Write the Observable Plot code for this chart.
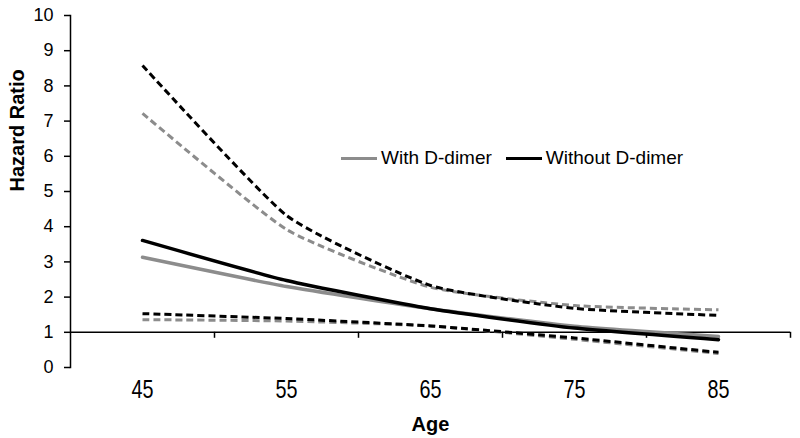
<!DOCTYPE html>
<html>
<head>
<meta charset="utf-8">
<script src="https://cdn.jsdelivr.net/npm/d3@7"></script>
<script src="https://cdn.jsdelivr.net/npm/@observablehq/plot@0.6"></script>
<style>
  html, body { margin: 0; padding: 0; background: #fff; }
  #wrap { position: relative; width: 800px; height: 438px; }
  #legend { position: absolute; left: 341px; top: 147px; height: 22px; display: flex; align-items: center;
            font-family: "Liberation Sans", Arial, sans-serif; font-size: 19px; color: #000; white-space: nowrap; }
  .sw { display: inline-block; width: 36px; height: 0; margin-right: 4px; }
  .item { display: flex; align-items: center; margin-right: 14px; }
</style>
</head>
<body>
<div id="wrap"><div id="legend"></div></div>
<script>
// Data
const ages = [45, 55, 65, 75, 85];
const seriesNames = ["With D-dimer", "Without D-dimer"];
const withHR    = [3.13, 2.30, 1.67, 1.17, 0.88];
const withLo    = [1.36, 1.32, 1.18, 0.80, 0.40];
const withHi    = [7.22, 3.92, 2.28, 1.76, 1.64];
const withoutHR = [3.61, 2.47, 1.67, 1.12, 0.79];
const withoutLo = [1.53, 1.39, 1.18, 0.84, 0.43];
const withoutHi = [8.58, 4.32, 2.33, 1.68, 1.48];
const yTicks = [0, 1, 2, 3, 4, 5, 6, 7, 8, 9, 10];
const refLine = 1;

const gray = "#8c8c8c", black = "#000000";
const rows = arr => ages.map((a, i) => ({age: a, v: arr[i]}));
const bounds = ages.map(a => a + 5);

const dashed = (arr, color) => Plot.line(rows(arr), {x: "age", y: "v", stroke: color, strokeWidth: 3,
  strokeDasharray: "7,4", curve: "cardinal", tension: 0.5, strokeLinecap: "butt"});
const solid = (arr, color) => Plot.line(rows(arr), {x: "age", y: "v", stroke: color, strokeWidth: 3.5,
  curve: "cardinal", tension: 0.5});

const chart = Plot.plot({
  width: 800, height: 438,
  marginLeft: 70, marginRight: 10, marginTop: 15, marginBottom: 71,
  x: {domain: [40, 90]},
  y: {domain: [0, 10]},
  style: {fontFamily: "'Liberation Sans', Arial, sans-serif", color: "#000", background: "#fff"},
  marks: [
    Plot.frame({anchor: "left", stroke: "#000", strokeWidth: 1.5}),
    Plot.axisY({ticks: yTicks, tickSize: 6, tickPadding: 11, fontSize: 18, label: null, strokeWidth: 1.5}),
    Plot.axisX({ticks: ages, tickSize: 0, tickPadding: 13, fontSize: 25, label: null}),
    Plot.ruleY([refLine], {stroke: "#000", strokeWidth: 1.5}),
    Plot.ruleX(bounds, {y1: refLine, y2: refLine, insetBottom: -6, stroke: "#000", strokeWidth: 1.5}),
    dashed(withHi, gray), dashed(withLo, gray), solid(withHR, gray),
    dashed(withoutHi, black), dashed(withoutLo, black), solid(withoutHR, black),
    Plot.text(["Age"], {frameAnchor: "bottom", dy: 57, fontSize: 20, fontWeight: "bold", lineAnchor: "middle"}),
    Plot.text(["Hazard Ratio"], {frameAnchor: "left", dx: -53, rotate: -90, fontSize: 20, fontWeight: "bold", lineAnchor: "middle"})
  ]
});
// condensed look for the x tick labels
chart.querySelectorAll('g[aria-label="x-axis tick label"] text').forEach(t => {
  t.setAttribute("textLength", 22);
  t.setAttribute("lengthAdjust", "spacingAndGlyphs");
});
document.getElementById("wrap").prepend(chart);

const legend = document.getElementById("legend");
[[seriesNames[0], gray], [seriesNames[1], black]].forEach(([name, c]) => {
  const it = document.createElement("div"); it.className = "item";
  const sw = document.createElement("span"); sw.className = "sw"; sw.style.borderTop = `3.5px solid ${c}`;
  const tx = document.createElement("span"); tx.textContent = name;
  it.append(sw, tx); legend.append(it);
});
</script>
</body>
</html>
